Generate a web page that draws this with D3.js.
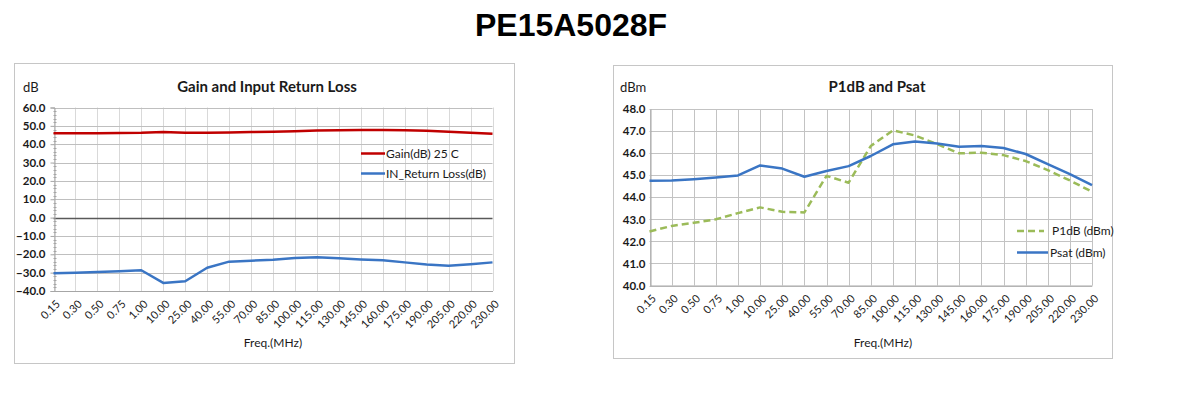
<!DOCTYPE html>
<html>
<head>
<meta charset="utf-8">
<script src="https://cdn.jsdelivr.net/npm/d3@7"></script>
<style>
  body { margin: 0; background: #fff; }
  svg { display: block; }
  text { font-family: Lato, "Open Sans", sans-serif; fill: #1a1a1a; }
</style>
</head>
<body>
<svg id="chart" width="1189" height="398"></svg>
<script>
// frequencies (MHz), shared by both charts
const freqs = ['0.15', '0.30', '0.50', '0.75', '1.00', '10.00', '25.00', '40.00', '55.00', '70.00',
  '85.00', '100.00', '115.00', '130.00', '145.00', '160.00', '175.00', '190.00', '205.00', '220.00', '230.00'];

// Gain and input return loss (dB)
const gain = [46.0, 46.0, 46.0, 46.1, 46.2, 46.6, 46.3, 46.3, 46.4, 46.6, 46.8,
  47.0, 47.4, 47.6, 47.7, 47.7, 47.6, 47.3, 46.8, 46.3, 45.7];
const inReturnLoss = [-30.3, -30.0, -29.7, -29.2, -28.7, -35.6, -34.7, -27.3, -24.0, -23.5, -23.0,
  -22.0, -21.6, -22.2, -22.8, -23.2, -24.4, -25.6, -26.3, -25.4, -24.4];

// P1dB and Psat (dBm)
const p1db = [42.45, 42.7, 42.84, 43.0, 43.28, 43.54, 43.34, 43.31, 44.97, 44.66, 46.32,
  47.03, 46.8, 46.41, 45.99, 46.02, 45.91, 45.64, 45.23, 44.76, 44.25];
const psat = [44.75, 44.76, 44.82, 44.9, 44.99, 45.44, 45.3, 44.93, 45.19, 45.41, 45.87,
  46.4, 46.53, 46.44, 46.29, 46.32, 46.23, 45.96, 45.5, 45.05, 44.55];

const gainTicks = d3.range(-40, 61, 10);
const powerTicks = d3.range(40, 48.1, 1);

const svg = d3.select('#chart');

svg.append('text')
  .attr('x', 571)
  .attr('y', 36)
  .attr('text-anchor', 'middle')
  .style('font-family', '"Liberation Sans", Arial, sans-serif')
  .style('font-size', '32px')
  .style('font-weight', 'bold')
  .style('fill', '#000')
  .text('PE15A5028F');

function drawChart(cfg) {
  const g = svg.append('g');

  // outer frame
  g.append('rect')
    .attr('x', cfg.box[0] + 0.5).attr('y', cfg.box[1] + 0.5)
    .attr('width', cfg.box[2] - cfg.box[0]).attr('height', cfg.box[3] - cfg.box[1])
    .attr('fill', '#fff').attr('stroke', '#c6c6c6');

  const x = d3.scalePoint().domain(freqs).range([cfg.plot[0], cfg.plot[1]]);
  const y = d3.scaleLinear().domain(cfg.domain).range([cfg.plot[3], cfg.plot[2]]);

  // vertical grid
  g.append('g').selectAll('line').data(freqs).join('line')
    .attr('x1', d => Math.round(x(d)) + 0.5).attr('x2', d => Math.round(x(d)) + 0.5)
    .attr('y1', y(cfg.domain[1])).attr('y2', y(cfg.domain[0]))
    .attr('stroke', cfg.vGrid).attr('stroke-width', 1);

  // horizontal grid
  g.append('g').selectAll('line').data(cfg.ticks).join('line')
    .attr('x1', cfg.plot[0]).attr('x2', cfg.plot[1])
    .attr('y1', d => Math.round(y(d)) + 0.5).attr('y2', d => Math.round(y(d)) + 0.5)
    .attr('stroke', d => d === 0 ? '#595959' : cfg.hGrid)
    .attr('stroke-width', d => d === 0 ? 1.5 : 1);

  // y axis
  const yAxis = g.append('g')
    .attr('transform', `translate(${Math.round(cfg.plot[0]) + 0.5},0)`)
    .call(d3.axisLeft(y).tickValues(cfg.ticks).tickFormat(d3.format('.1f')).tickSize(cfg.minor ? 4 : 0).tickPadding(5));
  yAxis.select('.domain').attr('stroke', '#a6a6a6');
  yAxis.selectAll('.tick line').attr('stroke', '#a6a6a6');
  yAxis.selectAll('text')
    .style('font-size', '11.5px').style('font-weight', 'bold').style('font-family', 'Lato, sans-serif');
  if (cfg.minor) {
    g.append('g').selectAll('line').data(cfg.minor).join('line')
      .attr('x1', cfg.plot[0]).attr('x2', cfg.plot[0] + 3)
      .attr('y1', d => Math.round(y(d)) + 0.5).attr('y2', d => Math.round(y(d)) + 0.5)
      .attr('stroke', '#a6a6a6');
  }

  // x axis
  const xAxis = g.append('g')
    .attr('transform', `translate(0,${cfg.plot[3]})`)
    .call(d3.axisBottom(x).tickSize(0));
  xAxis.select('.domain').attr('stroke', '#a6a6a6');
  xAxis.selectAll('text')
    .attr('x', 0).attr('y', 0).attr('dy', '0.35em')
    .attr('text-anchor', 'end')
    .attr('transform', 'translate(4,11) rotate(-45)')
    .style('font-size', '11px').style('font-family', 'Lato, sans-serif');

  // titles
  g.append('text')
    .attr('x', cfg.titleX).attr('y', 92)
    .attr('text-anchor', 'middle')
    .style('font-size', '15px').style('font-weight', 'bold')
    .text(cfg.title);
  g.append('text')
    .attr('x', cfg.unitX).attr('y', 92)
    .style('font-size', '13px')
    .text(cfg.unit);
  g.append('text')
    .attr('x', cfg.titleX + 6).attr('y', 347)
    .attr('text-anchor', 'middle')
    .style('font-size', '12px')
    .text('Freq.(MHz)');

  const line = d3.line().x((d, i) => x(freqs[i])).y(d => y(d));

  cfg.series.forEach(s => {
    g.append('path')
      .datum(s.values)
      .attr('d', line)
      .attr('fill', 'none')
      .attr('stroke', s.color)
      .attr('stroke-width', 2.5)
      .attr('stroke-dasharray', s.dash || null)
      .attr('stroke-linejoin', 'round');

    g.append('line')
      .attr('x1', s.legend[0]).attr('x2', s.legend[1])
      .attr('y1', s.legend[2]).attr('y2', s.legend[2])
      .attr('stroke', s.color).attr('stroke-width', 2.5)
      .attr('stroke-dasharray', s.dash || null);
    g.append('text')
      .attr('x', s.legend[3]).attr('y', s.legend[2]).attr('dy', '0.35em')
      .style('font-size', '12px')
      .text(s.name);
  });
}

drawChart({
  box: [14, 63, 514, 363],
  plot: [53.5, 492.5, 107.5, 291],
  domain: [-40, 60],
  ticks: gainTicks,
  minor: d3.range(-40, 61, 2).filter(v => v % 10 !== 0),
  vGrid: '#d9d9d9',
  hGrid: '#bfbfbf',
  title: 'Gain and Input Return Loss',
  titleX: 267,
  unit: 'dB',
  unitX: 23,
  series: [
    { name: 'Gain(dB) 25 C', values: gain, color: '#c00000', legend: [361, 385, 153.5, 386] },
    { name: 'IN_Return Loss(dB)', values: inReturnLoss, color: '#3a75c4', legend: [361, 385, 173.5, 386] }
  ]
});

drawChart({
  box: [613, 65, 1112, 358],
  plot: [649.5, 1092, 109, 285.5],
  domain: [40, 48],
  ticks: powerTicks,
  minor: null,
  vGrid: '#c3c3c3',
  hGrid: '#c3c3c3',
  title: 'P1dB and Psat',
  titleX: 877,
  unit: 'dBm',
  unitX: 620,
  series: [
    { name: 'P1dB (dBm)', values: p1db, color: '#9bbb59', dash: '7,4', legend: [1017, 1044, 231, 1052] },
    { name: 'Psat (dBm)', values: psat, color: '#3a75c4', legend: [1017, 1048, 252.5, 1050] }
  ]
});
</script>
</body>
</html>
